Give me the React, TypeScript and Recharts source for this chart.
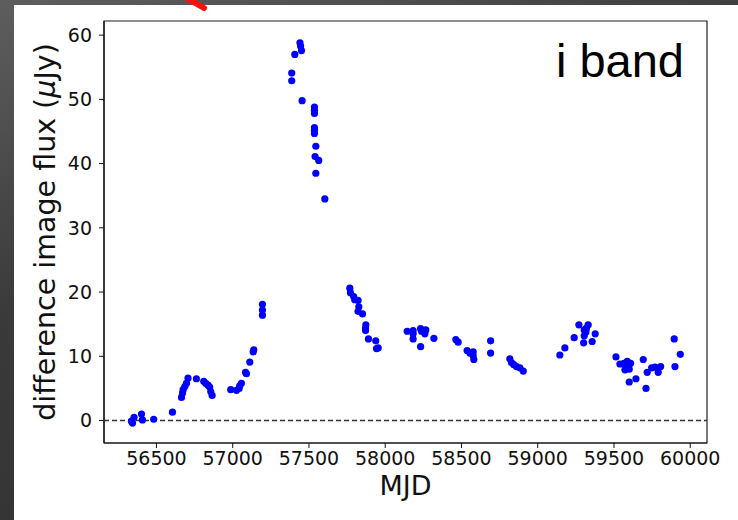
import React from "react";
import {
  ScatterChart,
  Scatter,
  XAxis,
  YAxis,
  ReferenceLine,
  ReferenceArea,
  Label,
} from "recharts";

// MJD of each observation
const mjd: number[] = [
  56336, 56343, 56353, 56402, 56408, 56482, 56605,
  56664, 56671, 56675, 56686, 56697, 56707, 56762, 56810, 56823, 56838, 56849, 56856, 56865,
  56987, 57025, 57042, 57046, 57057, 57084, 57090, 57112, 57134, 57138, 57195, 57195, 57195,
  57441, 57445, 57451, 57407, 57387, 57387, 57455, 57536, 57536, 57536, 57536, 57536, 57536,
  57545, 57540, 57564, 57545, 57604,
  57768, 57772, 57793, 57800, 57822, 57827, 57822, 57851, 57873, 57871, 57871, 57890, 57938, 57943, 57954,
  58144, 58183, 58183, 58183, 58232, 58238, 58266, 58260, 58232, 58319,
  58463, 58478, 58537, 58555, 58577, 58577, 58581, 58691, 58691,
  58817, 58828, 58843, 58861, 58883, 58905,
  59145, 59178, 59239, 59270, 59305, 59316, 59305, 59331, 59320, 59301, 59357, 59377,
  59513, 59539, 59565, 59578, 59587, 59609, 59572, 59600, 59600, 59644, 59692, 59710, 59718,
  59747, 59769, 59790, 59806, 59895, 59900, 59935,
];

// difference image flux (μJy)
const flux: number[] = [
  -0.1, -0.4, 0.5, 1.0, 0.1, 0.2, 1.3,
  3.6, 4.3, 4.8, 5.3, 5.8, 6.6, 6.5, 6.1, 5.8, 5.5, 5.2, 4.5, 3.9,
  4.8, 4.7, 5.0, 5.4, 5.8, 7.5, 7.3, 9.1, 10.7, 11.0, 18.1, 17.2, 16.4,
  58.8, 58.3, 57.6, 57.0, 54.1, 52.9, 49.8, 48.8, 48.3, 47.8, 45.6, 45.2, 44.7,
  42.7, 41.1, 40.5, 38.5, 34.5,
  20.6, 19.9, 19.3, 18.8, 18.7, 17.7, 17.0, 16.6, 14.9, 14.4, 14.0, 12.7, 12.4, 11.2, 11.3,
  13.9, 14.0, 13.5, 12.7, 14.3, 13.9, 14.1, 13.5, 11.5, 12.8,
  12.6, 12.2, 10.9, 10.5, 10.7, 10.1, 9.5, 12.4, 10.5,
  9.6, 9.0, 8.7, 8.4, 8.2, 7.7,
  10.2, 11.3, 12.9, 14.9, 14.1, 13.8, 13.2, 14.9, 14.4, 12.1, 12.3, 13.5,
  9.9, 8.8, 8.9, 8.4, 9.2, 8.9, 7.9, 8.0, 6.0, 6.5, 9.5, 5.0, 7.5,
  8.2, 8.3, 7.5, 8.4, 12.7, 8.4, 10.3,
];

const xTicks: number[] = [56500, 57000, 57500, 58000, 58500, 59000, 59500, 60000];
const yTicks: number[] = [0, 10, 20, 30, 40, 50, 60];

const points = mjd.map((m, i) => ({ mjd: m, flux: flux[i] }));

const X_DOMAIN: [number, number] = [56156, 60110];
const Y_DOMAIN: [number, number] = [-3.5, 62.2];

const tickStyle = { fontFamily: "DejaVu Sans", fontSize: 19, fill: "#111" };

const Dot = (props: any) => {
  const { cx, cy } = props;
  if (cx == null || cy == null) return null;
  return <circle cx={cx} cy={cy} r={3.6} fill="#0000ff" />;
};

export default function App() {
  return (
    <div
      style={{
        position: "absolute",
        left: 0,
        top: 0,
        width: 738,
        height: 520,
        background: "linear-gradient(160deg, #5e5e5e 0%, #3a3a3a 40%, #2e2e2e 100%)",
        overflow: "hidden",
      }}
    >
      <div
        style={{
          position: "absolute",
          left: 14,
          top: 5,
          width: 724,
          height: 515,
          background: "#ffffff",
        }}
      />
      <svg
        width={738}
        height={20}
        style={{ position: "absolute", left: 0, top: 0 }}
      >
        <line x1={185} y1={-3} x2={204} y2={8} stroke="#ff1010" strokeWidth={6} strokeLinecap="round" />
      </svg>
      <div style={{ position: "absolute", left: 0, top: 0 }}>
        <ScatterChart
          width={738}
          height={520}
          margin={{ top: 21, right: 31, bottom: 17, left: 0 }}
        >
          <XAxis
            type="number"
            dataKey="mjd"
            domain={X_DOMAIN}
            ticks={xTicks}
            allowDataOverflow
            height={60}
            tick={tickStyle}
            tickSize={5}
            tickMargin={4}
            stroke="#111"
            axisLine={{ stroke: "#111", strokeWidth: 1.2 }}
            tickLine={{ stroke: "#111" }}
          >
            <Label
              value="MJD"
              position="insideBottom"
              offset={8}
              style={{ fontFamily: "DejaVu Sans", fontSize: 27, fill: "#111" }}
            />
          </XAxis>
          <YAxis
            type="number"
            dataKey="flux"
            domain={Y_DOMAIN}
            ticks={yTicks}
            allowDataOverflow
            width={104}
            tick={tickStyle}
            tickSize={5}
            tickMargin={7}
            stroke="#111"
            axisLine={{ stroke: "#111", strokeWidth: 1.2 }}
            tickLine={{ stroke: "#111" }}
          >
            <Label
              value="difference image flux (μJy)"
              angle={-90}
              position="insideLeft"
              offset={0}
              content={(p: any) => {
                const vb = p.viewBox || {};
                const cy = (vb.y ?? 0) + (vb.height ?? 0) / 2;
                return (
                  <text
                    x={45}
                    y={cy}
                    transform={`rotate(-90 45 ${cy})`}
                    textAnchor="middle"
                    dominantBaseline="central"
                    style={{ fontFamily: "DejaVu Sans", fontSize: 28.5, fill: "#111" }}
                  >
                    difference image flux (
                    <tspan fontStyle="italic">μ</tspan>
                    Jy)
                  </text>
                );
              }}
            />
          </YAxis>
          <ReferenceArea
            x1={X_DOMAIN[0]}
            x2={X_DOMAIN[1]}
            y1={Y_DOMAIN[0]}
            y2={Y_DOMAIN[1]}
            fill="none"
            fillOpacity={0}
            stroke="#222"
            strokeWidth={1.2}
            ifOverflow="visible"
          />
          <ReferenceLine
            y={0}
            stroke="#333"
            strokeWidth={1.3}
            strokeDasharray="5 3"
          />
          <Scatter
            data={points}
            shape={<Dot />}
            isAnimationActive={false}
          />
        </ScatterChart>
      </div>
      <div
        style={{
          position: "absolute",
          left: 518,
          top: 33,
          width: 166,
          textAlign: "right",
          fontFamily: "Liberation Sans",
          fontSize: 47,
          lineHeight: "56px",
          color: "#000",
        }}
      >
        i band
      </div>
    </div>
  );
}
